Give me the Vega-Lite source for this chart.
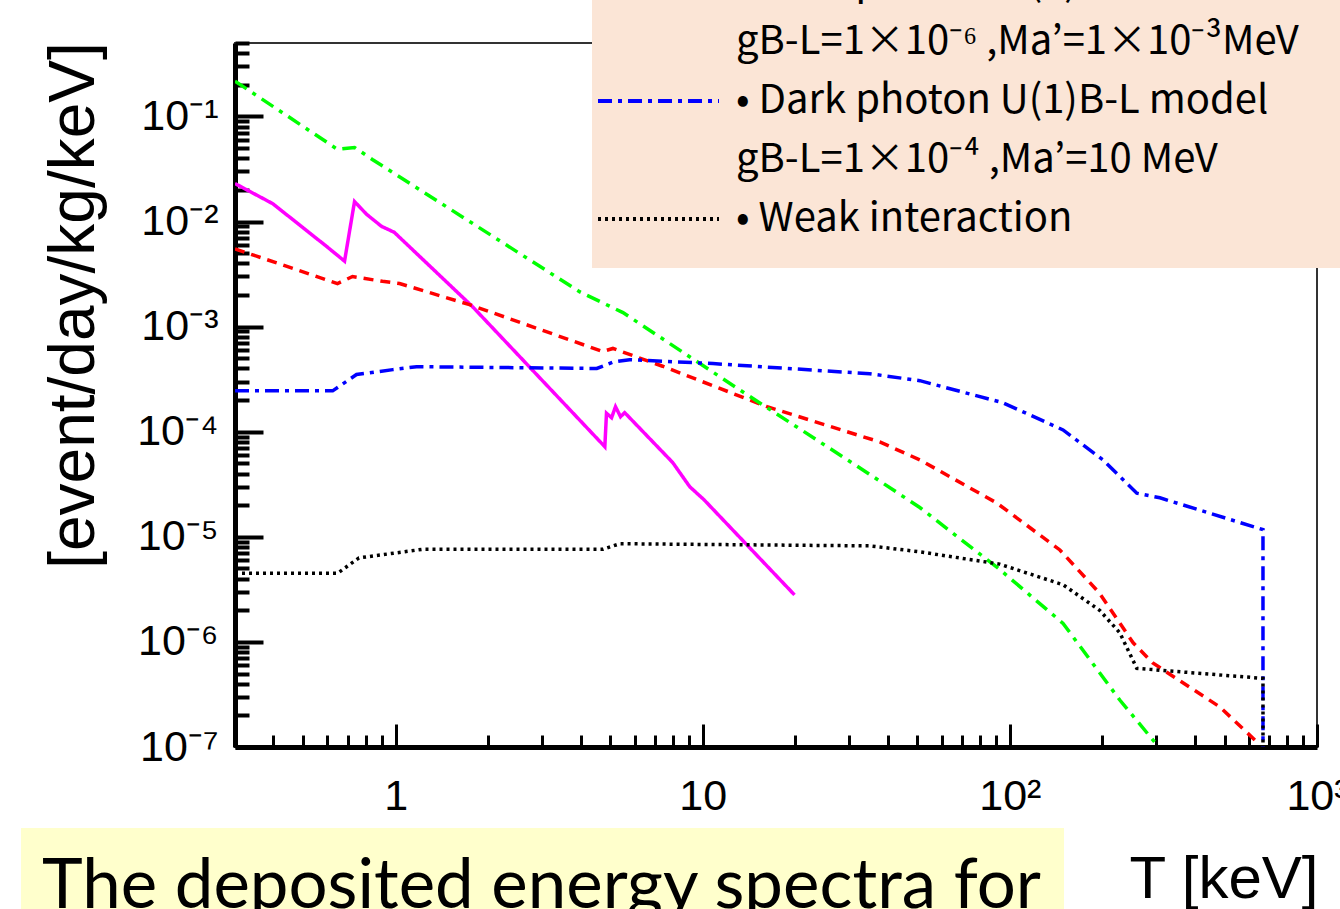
{
 "$schema": "https://vega.github.io/schema/vega-lite/v6.json",
 "width": 1082,
 "height": 704,
 "autosize": {"type": "none"},
 "padding": {"left": 235, "top": 43, "right": 23, "bottom": 162},
 "background": "white",
 "config": {"view": {"stroke": "#333333", "strokeWidth": 2}, "font": "Liberation Sans"},
 "data": {"values": [
  {"s":"m","i":1,"x":0.3,"y":0.023},
  {"s":"m","i":2,"x":0.398,"y":0.0148},
  {"s":"m","i":3,"x":0.596,"y":0.0058},
  {"s":"m","i":4,"x":0.682,"y":0.0042},
  {"s":"m","i":5,"x":0.735,"y":0.0155},
  {"s":"m","i":6,"x":0.805,"y":0.0117},
  {"s":"m","i":7,"x":0.9,"y":0.009},
  {"s":"m","i":8,"x":0.99,"y":0.0079},
  {"s":"m","i":9,"x":1.78,"y":0.00155},
  {"s":"m","i":10,"x":4.8,"y":0.000072},
  {"s":"m","i":11,"x":4.86,"y":0.00015},
  {"s":"m","i":12,"x":5.05,"y":0.000136},
  {"s":"m","i":13,"x":5.2,"y":0.000173},
  {"s":"m","i":14,"x":5.4,"y":0.000139},
  {"s":"m","i":15,"x":5.57,"y":0.000152},
  {"s":"m","i":16,"x":7.98,"y":0.000051},
  {"s":"m","i":17,"x":9.07,"y":0.00003},
  {"s":"m","i":18,"x":10.1,"y":0.0000225},
  {"s":"m","i":19,"x":19.9,"y":0.0000028},
  {"s":"r","i":1,"x":0.3,"y":0.0055},
  {"s":"r","i":2,"x":0.647,"y":0.00257},
  {"s":"r","i":3,"x":0.724,"y":0.003},
  {"s":"r","i":4,"x":0.906,"y":0.0027},
  {"s":"r","i":5,"x":1.03,"y":0.00257},
  {"s":"r","i":6,"x":1.74,"y":0.00162},
  {"s":"r","i":7,"x":4.72,"y":0.00058},
  {"s":"r","i":8,"x":5.1,"y":0.00062},
  {"s":"r","i":9,"x":7.4,"y":0.00042},
  {"s":"r","i":10,"x":16.2,"y":0.000173},
  {"s":"r","i":11,"x":37.7,"y":0.00008},
  {"s":"r","i":12,"x":50.9,"y":0.000054},
  {"s":"r","i":13,"x":90.6,"y":0.000021},
  {"s":"r","i":14,"x":145.5,"y":0.0000075},
  {"s":"r","i":15,"x":196,"y":0.0000029},
  {"s":"r","i":16,"x":252,"y":0.00000098},
  {"s":"r","i":17,"x":292,"y":0.00000063},
  {"s":"r","i":18,"x":483,"y":0.00000024},
  {"s":"r","i":19,"x":652,"y":0.000000105},
  {"s":"g","i":1,"x":0.3,"y":0.217},
  {"s":"g","i":2,"x":0.647,"y":0.0486},
  {"s":"g","i":3,"x":0.735,"y":0.0507},
  {"s":"g","i":4,"x":0.84,"y":0.039},
  {"s":"g","i":5,"x":3.97,"y":0.00215},
  {"s":"g","i":6,"x":5.5,"y":0.00136},
  {"s":"g","i":7,"x":13.2,"y":0.00025},
  {"s":"g","i":8,"x":34.2,"y":0.000041},
  {"s":"g","i":9,"x":50.9,"y":0.000019},
  {"s":"g","i":10,"x":92.6,"y":0.0000049},
  {"s":"g","i":11,"x":149,"y":0.0000015},
  {"s":"g","i":12,"x":228,"y":0.00000028},
  {"s":"g","i":13,"x":301,"y":0.000000105},
  {"s":"b","i":1,"x":0.3,"y":0.000245},
  {"s":"b","i":2,"x":0.624,"y":0.000245},
  {"s":"b","i":3,"x":0.746,"y":0.00035},
  {"s":"b","i":4,"x":0.98,"y":0.00039},
  {"s":"b","i":5,"x":1.17,"y":0.000416},
  {"s":"b","i":6,"x":4.52,"y":0.0004},
  {"s":"b","i":7,"x":5.1,"y":0.00046},
  {"s":"b","i":8,"x":5.78,"y":0.000485},
  {"s":"b","i":9,"x":10.8,"y":0.000445},
  {"s":"b","i":10,"x":35,"y":0.000356},
  {"s":"b","i":11,"x":50.9,"y":0.000306},
  {"s":"b","i":12,"x":94.8,"y":0.000189},
  {"s":"b","i":13,"x":149,"y":0.000104},
  {"s":"b","i":14,"x":201,"y":0.000054},
  {"s":"b","i":15,"x":259,"y":0.000026},
  {"s":"b","i":16,"x":308,"y":0.0000235},
  {"s":"b","i":17,"x":667,"y":0.0000117},
  {"s":"b","i":18,"x":667,"y":0.0000001},
  {"s":"w","i":1,"x":0.3,"y":0.0000045},
  {"s":"w","i":2,"x":0.647,"y":0.0000045},
  {"s":"w","i":3,"x":0.76,"y":0.0000063},
  {"s":"w","i":4,"x":1.22,"y":0.0000076},
  {"s":"w","i":5,"x":4.73,"y":0.0000076},
  {"s":"w","i":6,"x":5.37,"y":0.0000086},
  {"s":"w","i":7,"x":35,"y":0.0000082},
  {"s":"w","i":8,"x":50.9,"y":0.0000072},
  {"s":"w","i":9,"x":92.6,"y":0.0000055},
  {"s":"w","i":10,"x":149,"y":0.0000035},
  {"s":"w","i":11,"x":196,"y":0.000002},
  {"s":"w","i":12,"x":228,"y":0.00000122},
  {"s":"w","i":13,"x":259,"y":0.00000056},
  {"s":"w","i":14,"x":667,"y":0.00000045},
  {"s":"w","i":15,"x":667,"y":0.0000001}
 ]},
 "mark": {"type": "line", "strokeWidth": 3.5, "clip": true},
 "encoding": {
  "x": {"field": "x", "type": "quantitative",
   "scale": {"type": "log", "domain": [0.3, 1000], "nice": false},
   "axis": {
    "title": "T [keV]", "titleFont": "Liberation Sans", "titleFontSize": 60, "titleFontWeight": "normal", "titleColor": "black",
    "titleX": 1083, "titleY": 150, "titleAlign": "right", "titleBaseline": "alphabetic",
    "values": [0.3,0.4,0.5,0.6,0.7,0.8,0.9,1,2,3,4,5,6,7,8,9,10,20,30,40,50,60,70,80,90,100,200,300,400,500,600,700,800,900,1000],
    "grid": false, "domainColor": "black", "domainWidth": 5,
    "tickColor": "black", "tickWidth": 3,
    "tickSize": {"condition": {"test": "abs(log(datum.value)/LN10 - round(log(datum.value)/LN10)) < 0.001", "value": -23}, "value": -12},
    "labelExpr": "abs(log(datum.value)/LN10 - round(log(datum.value)/LN10)) < 0.001 ? ['1','10','10²','10³'][round(log(datum.value)/LN10)] : ''",
    "labelFont": "Liberation Sans", "labelFontSize": 43, "labelColor": "black",
    "labelPadding": 51, "labelOverlap": false, "labelFlush": false, "labelBound": false
   }
  },
  "y": {"field": "y", "type": "quantitative",
   "scale": {"type": "log", "domain": [1e-7, 0.5], "nice": false},
   "axis": {
    "title": "[event/day/kg/keV]", "titleFont": "Liberation Sans", "titleFontSize": 64, "titleFontWeight": "normal", "titleColor": "black",
    "titleX": -161, "titleY": 262, "titleAngle": 270, "titleAlign": "center", "titleBaseline": "middle",
    "values": [1e-7,2e-7,3e-7,4e-7,5e-7,6e-7,7e-7,8e-7,9e-7,1e-6,2e-6,3e-6,4e-6,5e-6,6e-6,7e-6,8e-6,9e-6,1e-5,2e-5,3e-5,4e-5,5e-5,6e-5,7e-5,8e-5,9e-5,1e-4,2e-4,3e-4,4e-4,5e-4,6e-4,7e-4,8e-4,9e-4,1e-3,2e-3,3e-3,4e-3,5e-3,6e-3,7e-3,8e-3,9e-3,1e-2,2e-2,3e-2,4e-2,5e-2,6e-2,7e-2,8e-2,9e-2,0.1,0.2,0.3,0.4,0.5],
    "grid": false, "domainColor": "black", "domainWidth": 5,
    "tickColor": "black", "tickWidth": 4,
    "tickSize": {"condition": {"test": "abs(log(datum.value)/LN10 - round(log(datum.value)/LN10)) < 0.001", "value": -28}, "value": -14},
    "labelExpr": "abs(log(datum.value)/LN10 - round(log(datum.value)/LN10)) < 0.001 ? '10' + ['⁻⁷','⁻⁶','⁻⁵','⁻⁴','⁻³','⁻²','⁻¹'][round(log(datum.value)/LN10) + 7] : ''",
    "labelFont": "Liberation Sans", "labelFontSize": 43, "labelColor": "black",
    "labelPadding": 45, "labelOverlap": false, "labelFlush": false, "labelBound": false
   }
  },
  "color": {"field": "s", "type": "nominal",
   "scale": {"domain": ["m","r","g","gp","b","bp","w"], "range": ["#FF00FF","#FF0000","#00FF00","rgba(0,0,0,0)","#0000FF","rgba(0,0,0,0)","#000000"]},
   "legend": {
    "orient": "none", "legendX": 357, "legendY": -84,
    "values": ["g","gp","b","bp","w"],
    "title": "MMMMMMMMMMMMMMMMMMMMMMMMMMMMMMMMMMMMMMMMMMMMII", "titleColor": "rgba(0,0,0,0)", "titleFont": "Liberation Sans", "titleOrient": "bottom", "titleFontSize": 20, "titlePadding": 5, "titleLimit": 3000,
    "fillColor": "#FBE5D6", "padding": 4, "clipHeight": 40,
    "symbolType": "stroke", "symbolSize": 14641, "symbolStrokeWidth": 4, "symbolOffset": 0,
    "labelOffset": 15, "labelFont": "Noto Sans CJK JP", "labelFontSize": 40, "labelColor": "black", "labelLimit": 2000,
    "rowPadding": 19,
    "labelExpr": "datum.label == 'g' || datum.label == 'b' ? '• Dark photon U(1)B-L model' : datum.label == 'gp' ? 'gB-L=1×10⁻⁶ ,Ma’=1×10⁻³MeV' : datum.label == 'bp' ? 'gB-L=1×10⁻⁴ ,Ma’=10 MeV' : '• Weak interaction'"
   }
  },
  "strokeDash": {"field": "s", "type": "nominal",
   "scale": {"domain": ["m","r","g","gp","b","bp","w"], "range": [[1,0],[10,7],[14,7,4,7],[1,0],[14,6,4,6],[1,0],[3,4]]},
   "legend": {
    "orient": "none", "legendX": 357, "legendY": -84,
    "values": ["g","gp","b","bp","w"],
    "title": "MMMMMMMMMMMMMMMMMMMMMMMMMMMMMMMMMMMMMMMMMMMMII", "titleColor": "rgba(0,0,0,0)", "titleFont": "Liberation Sans", "titleOrient": "bottom", "titleFontSize": 20, "titlePadding": 5, "titleLimit": 3000,
    "fillColor": "#FBE5D6", "padding": 4, "clipHeight": 40,
    "symbolType": "stroke", "symbolSize": 14641, "symbolStrokeWidth": 4, "symbolOffset": 0,
    "labelOffset": 15, "labelFont": "Noto Sans CJK JP", "labelFontSize": 40, "labelColor": "black", "labelLimit": 2000,
    "rowPadding": 19,
    "labelExpr": "datum.label == 'g' || datum.label == 'b' ? '• Dark photon U(1)B-L model' : datum.label == 'gp' ? 'gB-L=1×10⁻⁶ ,Ma’=1×10⁻³MeV' : datum.label == 'bp' ? 'gB-L=1×10⁻⁴ ,Ma’=10 MeV' : '• Weak interaction'"
   }
  },
  "opacity": {"datum": "box", "type": "nominal",
   "scale": {"range": [1, 1]},
   "legend": {
    "orient": "none", "legendX": -214, "legendY": 785,
    "title": "The deposited energy spectra for", "titleFont": "Lato", "titleFontSize": 69, "titleFontWeight": "normal", "titleColor": "black",
    "titleBaseline": "line-top", "titleLineHeight": 78, "titlePadding": 0, "titleLimit": 3000, "titleAnchor": "start",
    "fillColor": "#FFFFCC", "padding": 21,
    "symbolSize": 1, "symbolStrokeWidth": 0, "symbolStrokeColor": "transparent", "symbolOpacity": 0,
    "labelExpr": "''", "labelFontSize": 10
   }
  },
  "order": {"field": "i", "type": "quantitative"}
 }
}
